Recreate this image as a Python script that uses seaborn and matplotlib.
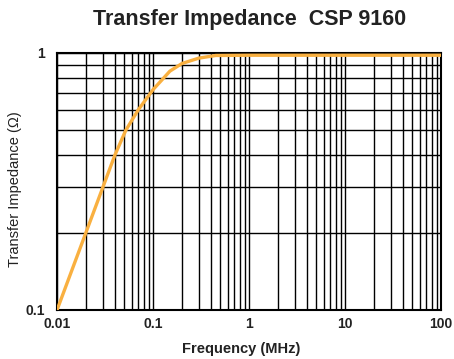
import numpy as np
import pandas as pd
import seaborn as sns
import matplotlib.pyplot as plt
from matplotlib.ticker import LogLocator, FixedLocator, FixedFormatter, NullFormatter

# values
freq_mhz = [0.01, 0.02, 0.03, 0.04, 0.052, 0.07, 0.1, 0.15, 0.2, 0.3, 0.45, 1, 10, 100]
impedance = [0.1, 0.2, 0.3, 0.4, 0.5, 0.6, 0.72, 0.85, 0.91, 0.955, 0.978, 0.98, 0.98, 0.98]

x_ticks = [0.01, 0.1, 1, 10, 100]
x_labels = ["0.01", "0.1", "1", "10", "100"]
y_ticks = [0.1, 1]
y_labels = ["0.1", "1"]

df = pd.DataFrame({"Frequency": freq_mhz, "Impedance": impedance})

sns.set_theme(style="white")
plt.rcParams["font.family"] = ["Liberation Sans", "DejaVu Sans"]

fig = plt.figure(figsize=(4.54, 3.59), dpi=100)
ax = fig.add_axes([0.1256, 0.1365, 0.8458, 0.7159])

sns.lineplot(data=df, x="Frequency", y="Impedance", color="#F9B040", linewidth=2.4, ax=ax, zorder=3)

ax.set_xscale("log")
ax.set_yscale("log")
ax.set_xlim(0.01, 100)
ax.set_ylim(0.1, 1)

ax.xaxis.set_major_locator(FixedLocator(x_ticks))
ax.xaxis.set_major_formatter(FixedFormatter(x_labels))
ax.xaxis.set_minor_locator(LogLocator(base=10, subs=np.arange(2, 10)))
ax.xaxis.set_minor_formatter(NullFormatter())
ax.yaxis.set_major_locator(FixedLocator(y_ticks))
ax.yaxis.set_major_formatter(FixedFormatter(y_labels))
ax.yaxis.set_minor_locator(LogLocator(base=10, subs=np.arange(2, 10)))
ax.yaxis.set_minor_formatter(NullFormatter())

ax.grid(True, which="both", color="black", linewidth=1.0)
ax.tick_params(which="both", length=0, labelsize=10, colors="#222222")
ax.tick_params(axis="x", pad=5)
ax.tick_params(axis="y", pad=9)
for lbl in ax.get_xticklabels() + ax.get_yticklabels():
    lbl.set_fontweight("bold")

for side in ["left", "bottom", "top", "right"]:
    ax.spines[side].set_color("black")
    ax.spines[side].set_linewidth(1.5)

ax.set_xlabel("Frequency (MHz)", fontsize=10.5, fontweight="bold", color="#222222")
ax.xaxis.set_label_coords(0.48, -0.125)
ax.set_ylabel("Transfer Impedance (\u03a9)", fontsize=10.5, color="#222222")
ax.yaxis.set_label_coords(-0.09, 0.47)
fig.suptitle("Transfer Impedance  CSP 9160", x=0.55, y=0.975, fontsize=15.5, fontweight="bold", color="#222222")

plt.savefig("out.png", dpi=100)
